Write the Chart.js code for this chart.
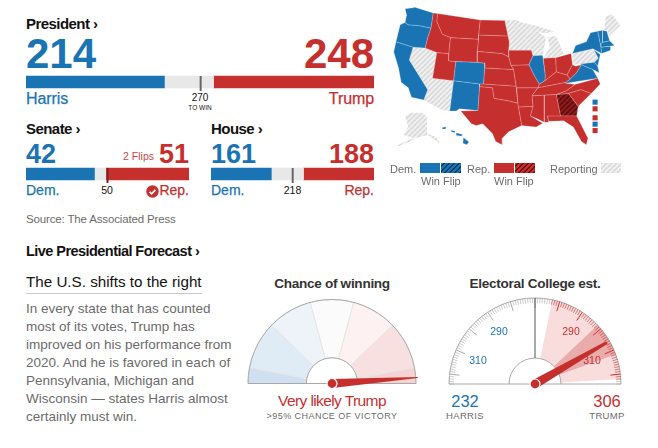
<!DOCTYPE html>
<html><head><meta charset="utf-8">
<script src="https://cdn.jsdelivr.net/npm/chart.js@4"></script>
<style>
html,body{margin:0;padding:0;background:#fff;width:658px;height:448px;overflow:hidden}
body{position:relative;font-family:"Liberation Sans",Arial,sans-serif;color:#121212}
.t{position:absolute;white-space:nowrap;line-height:1;transform:translateY(-50%)}
.c{transform:translate(-50%,-50%)}
.b{font-weight:700}
.h{font-weight:700;font-size:15px;letter-spacing:-.55px}
.blue{color:#1a74b4}.red{color:#c5302f}.gray{color:#6b6b6b}
.m{-webkit-text-stroke:.25px currentColor}
canvas{position:absolute;display:block}
.sw{position:absolute;height:10px;width:20px}
.p{font-size:13.5px;left:26px}
</style></head><body>

<div class="t h" style="left:26px;top:23px">President ›</div>
<div class="t b blue" style="left:26px;top:54px;font-size:42px">214</div>
<div class="t b red" style="right:284px;top:54px;font-size:42px">248</div>
<div class="t blue m" style="left:26px;top:99px;font-size:16px;letter-spacing:-.1px">Harris</div>
<div class="t red m" style="right:284px;top:99px;font-size:16px;letter-spacing:-.1px">Trump</div>
<div class="t c" style="left:200px;top:98px;font-size:10px">270</div>
<div class="t c" style="left:200px;top:108px;font-size:6.5px">TO WIN</div>

<div class="t h" style="left:26px;top:128px">Senate ›</div>
<div class="t h" style="left:211px;top:128px">House ›</div>
<div class="t b blue" style="left:26px;top:154px;font-size:27px">42</div>
<div class="t b blue" style="left:211px;top:154px;font-size:27px">161</div>
<div class="t b red" style="right:469px;top:154px;font-size:27px">51</div>
<div class="t b red" style="right:284px;top:154px;font-size:27px">188</div>
<div class="t red" style="right:504px;top:156px;font-size:10.5px;opacity:.9">2 Flips</div>
<div class="t blue m" style="left:26px;top:190px;font-size:14px">Dem.</div>
<div class="t blue m" style="left:211px;top:190px;font-size:14px">Dem.</div>
<div class="t red m" style="right:469px;top:190px;font-size:14px">Rep.</div>
<div class="t red m" style="right:284px;top:190px;font-size:14px">Rep.</div>
<div class="t c" style="left:107px;top:190px;font-size:10.5px">50</div>
<div class="t c" style="left:292.5px;top:190px;font-size:10.5px">218</div>
<svg style="position:absolute;left:146px;top:185px" width="13" height="13" viewBox="0 0 13 13"><circle cx="6.5" cy="6.5" r="6.2" fill="#c5302f"/><path d="M3.6 6.8l2 2 3.8-4" fill="none" stroke="#fff" stroke-width="1.7"/></svg>
<div class="t gray" style="left:26px;top:220px;font-size:11.5px;letter-spacing:-.15px">Source: The Associated Press</div>

<div class="t h" style="left:26px;top:251px;font-size:14.5px">Live Presidential Forecast ›</div>
<div class="t" style="left:26px;top:282px;font-size:15.2px">The U.S. shifts to the right</div>
<div style="position:absolute;left:26px;top:293px;width:176px;height:1px;background:#c9c9c9"></div>
<div class="t gray p" style="top:309px">In every state that has counted</div>
<div class="t gray p" style="top:327px">most of its votes, Trump has</div>
<div class="t gray p" style="top:345px">improved on his performance from</div>
<div class="t gray p" style="top:363px">2020. And he is favored in each of</div>
<div class="t gray p" style="top:381px">Pennsylvania, Michigan and</div>
<div class="t gray p" style="top:399px">Wisconsin — states Harris almost</div>
<div class="t gray p" style="top:417px">certainly must win.</div>

<div class="t c h" style="left:332px;top:284px;font-size:13.6px;color:#333;letter-spacing:-.3px">Chance of winning</div>
<div class="t c h" style="left:535px;top:284px;font-size:13.6px;color:#333;letter-spacing:-.3px">Electoral College est.</div>
<div class="t c red" style="left:332px;top:401px;font-size:15.5px;letter-spacing:-.6px">Very likely Trump</div>
<div class="t c gray" style="left:332px;top:416px;font-size:9px;letter-spacing:.45px">&gt;95% CHANCE OF VICTORY</div>
<div class="t c blue" style="left:465px;top:401px;font-size:16.5px">232</div>
<div class="t c red" style="left:607px;top:401px;font-size:16.5px">306</div>
<div class="t c gray" style="left:465px;top:416px;font-size:9.5px;letter-spacing:.35px">HARRIS</div>
<div class="t c gray" style="left:607px;top:416px;font-size:9.5px;letter-spacing:.35px">TRUMP</div>

<canvas id="bP" width="348" height="20" style="left:26px;top:72px"></canvas>
<canvas id="bS" width="163" height="20" style="left:26px;top:164px"></canvas>
<canvas id="bH" width="163" height="20" style="left:211px;top:164px"></canvas>
<canvas id="map" width="278" height="195" style="left:380px;top:0"></canvas>
<canvas id="g1" width="192" height="104" style="left:236px;top:290px"></canvas>
<canvas id="g2" width="192" height="104" style="left:439px;top:290px"></canvas>

<div class="t c" style="left:499px;top:331px;font-size:10.5px;color:#1a74b4">290</div>
<div class="t c" style="left:478px;top:360px;font-size:10.5px;color:#1a74b4">310</div>
<div class="t c" style="left:571px;top:331px;font-size:10.5px;color:#c5302f">290</div>
<div class="t c" style="left:592px;top:360px;font-size:10.5px;color:#c5302f">310</div>

<div class="t gray" style="left:390px;top:169px;font-size:11px">Dem.</div>
<div class="sw" style="left:420px;top:163px;background:#1a74b4"></div>
<div class="sw" style="left:441px;top:163px;background:repeating-linear-gradient(135deg,#1a74b4 0 2px,#0e3f66 2px 3.5px)"></div>
<div class="t gray" style="left:467px;top:169px;font-size:11px">Rep.</div>
<div class="sw" style="left:494px;top:163px;background:#c5302f"></div>
<div class="sw" style="left:515px;top:163px;background:repeating-linear-gradient(135deg,#c5302f 0 2px,#6d1113 2px 3.5px)"></div>
<div class="t gray" style="left:421px;top:181px;font-size:11px">Win Flip</div>
<div class="t gray" style="left:494px;top:181px;font-size:11px">Win Flip</div>
<div class="t gray" style="left:550px;top:169px;font-size:11px">Reporting</div>
<div class="sw" style="left:601px;top:163px;background:repeating-linear-gradient(135deg,#dedede 0 2px,#f3f3f3 2px 3.5px)"></div>

<script>
// ---- Results -------------------------------------------------------
const PRESIDENT = [214, 76, 248];
const SENATE    = [42, 7, 51];
const HOUSE     = [161, 86, 188];
const PRESIDENT_MARK = 270, SENATE_MARK = 50, HOUSE_MARK = 218;

// ---- Forecast gauges -----------------------------------------------
const WIN_ZONES = [11, 33, 31, 30, 31, 33, 11];
const WIN_NEEDLE = 97.8;
const EV_ZONES = [61, 21, 14, 10, 2];     // spans of electoral votes from 216 to 324
const EV_MIN = 216, EV_MID = 270, EV_MAX = 324, EV_NEEDLE = 306;

// ---- Map outlines (state shapes) -----------------------------------
const WA=[[65,15],[90,12],[95,10],[152,28],[145,75],[110,68],[75,65],[65,58],[70,35]];
const OR=[[50,65],[65,58],[75,65],[110,68],[145,75],[135,105],[127,138],[90,135],[37,118]];
const CA=[[37,118],[90,135],[78,175],[135,268],[123,300],[85,292],[75,262],[53,245],[45,200],[30,150]];
const NV=[[90,135],[127,138],[163,152],[150,232],[138,228],[135,268],[78,175]];
const UT=[[163,152],[200,155],[200,178],[222,180],[215,240],[150,232]];
const ID=[[152,28],[165,30],[163,55],[180,95],[205,105],[200,155],[163,152],[127,138],[135,105],[145,75]];
const MT=[[165,30],[297,50],[292,97],[292,110],[205,105],[180,95],[163,55]];
const WY=[[205,105],[292,110],[288,148],[288,183],[222,180],[200,178],[200,155]];
const CO=[[222,180],[288,183],[311,185],[311,200],[307,250],[295,250],[215,240]];
const NM=[[215,240],[295,250],[295,258],[290,333],[233,328],[223,335],[203,335]];
const AZ=[[150,232],[215,240],[203,335],[180,332],[123,300],[135,268],[138,228]];
const ND=[[297,50],[373,52],[383,100],[292,97]];
const SD=[[292,97],[383,100],[387,120],[385,145],[385,165],[365,155],[288,148],[292,110]];
const NE=[[288,148],[365,155],[385,165],[392,192],[400,205],[311,200],[311,185],[288,183]];
const KS=[[311,200],[400,205],[408,257],[307,250]];
const OK=[[295,250],[307,250],[408,257],[413,310],[380,302],[340,295],[335,262],[295,258]];
const TX=[[237,335],[290,333],[295,258],[335,262],[340,295],[380,302],[413,310],[415,322],[420,350],[425,380],[385,400],[365,420],[365,440],[345,430],[335,405],[305,375],[285,380],[270,375],[250,350]];
const MN=[[373,52],[410,50],[425,58],[470,68],[440,92],[437,115],[455,145],[385,145],[387,120],[383,100]];
const IA=[[385,145],[455,145],[460,162],[448,190],[392,192],[385,165]];
const MO=[[392,192],[448,190],[465,225],[480,250],[475,262],[410,262],[408,257],[400,205]];
const AR=[[410,262],[475,262],[457,287],[460,320],[415,322],[413,310]];
const LA=[[415,322],[460,320],[452,350],[490,373],[470,385],[425,380],[420,350]];
const WI=[[440,92],[475,85],[500,105],[490,160],[460,162],[455,145],[437,115]];
const IL=[[460,162],[490,160],[498,222],[497,240],[480,250],[465,225],[448,190]];
const MI=[[505,105],[530,100],[545,130],[555,155],[530,168],[492,170],[512,135]];
const UP=[[470,68],[525,85],[495,92],[475,85],[440,92]];
const IN=[[492,170],[530,168],[532,212],[497,240],[498,222]];
const OH=[[530,168],[578,155],[582,190],[565,222],[532,212]];
const KY=[[480,250],[497,240],[532,212],[565,222],[575,235],[562,245],[475,262]];
const TN=[[475,262],[562,245],[562,248],[590,252],[562,272],[532,283],[495,285],[457,287]];
const MS=[[457,287],[495,285],[495,370],[475,360],[452,350],[460,320]];
const AL=[[495,285],[532,283],[545,350],[505,350],[508,370],[495,370]];
const GA=[[532,283],[570,280],[600,320],[595,350],[545,350]];
const FL=[[505,350],[545,350],[595,350],[630,420],[625,440],[610,430],[585,385],[555,365],[508,367]];
const SC=[[570,280],[608,268],[640,280],[600,320]];
const NC=[[562,272],[590,252],[660,232],[668,250],[640,280],[608,268],[570,280],[532,283]];
const VA=[[562,248],[562,245],[575,235],[595,215],[610,190],[625,197],[645,205],[660,232]];
const WV=[[565,222],[582,190],[592,195],[610,190],[595,215],[575,235]];
const PA=[[582,155],[645,140],[662,170],[650,182],[582,190]];
const NY=[[592,130],[625,118],[638,90],[660,85],[668,125],[670,135],[672,155],[645,140],[582,155]];
const NJ=[[648,143],[668,158],[660,195],[650,182],[662,170]];
const MD=[[605,188],[650,182],[660,195],[665,215],[645,205],[625,197]];
const VT=[[660,85],[675,82],[675,120],[668,125]];
const NH=[[675,82],[688,85],[697,115],[675,120]];
const MA=[[668,125],[675,120],[697,115],[712,130],[670,135]];
const CT=[[670,135],[700,132],[700,145],[672,155]];
const ME=[[685,40],[705,32],[730,68],[695,100],[680,80]];
const AK=[[65,350],[85,340],[120,340],[133,355],[133,405],[160,415],[175,438],[135,410],[95,420],[60,410],[75,385]];
const AK2=[[40,442],[90,420],[95,424],[45,445]];
const HI1=[[180,386],[192,384],[190,391],[180,391]];
const HI2=[[208,394],[220,398],[218,403],[208,400]];
const HI3=[[223,403],[243,408],[241,414],[225,411]];
const HI4=[[245,418],[263,432],[255,440],[244,436]];
const DEM_STATES=[WA,OR,CA,CO,NM,IL,VA,NY,NJ,MD,VT,NH,MA,CT,HI1,HI2,HI3,HI4];
const REP_STATES=[ID,MT,WY,UT,ND,SD,NE,KS,OK,TX,IA,MO,AR,LA,IN,OH,KY,TN,MS,AL,FL,SC,NC,WV];
const REP_FLIPS=[GA];
const REPORTING=[NV,AZ,MN,WI,MI,UP,PA,ME,AK,AK2];
const SMALL_STATES=[[652,307],[652,328],[652,356],[652,376],[652,396]];
const SMALL_COLORS=['dem','rep','rep','dem','rep'];

const BLUE='#1a74b4', RED='#c5302f', GRAY_BAR='#e8e8e8';
Chart.defaults.animation=false;
Chart.defaults.responsive=false;

function marker(value,color){return {id:'mark',afterDatasetsDraw(ch){
  const x=ch.scales.x.getPixelForValue(value),c=ch.ctx;
  c.save();c.strokeStyle=color;c.lineWidth=2;c.beginPath();c.moveTo(x,4);c.lineTo(x,19);c.stroke();c.restore();}}}
function bar(id,vals,mark,markColor){
  new Chart(document.getElementById(id),{type:'bar',
    data:{labels:['seats'],datasets:[BLUE,GRAY_BAR,RED].map((col,i)=>({data:[vals[i]],backgroundColor:col,barThickness:12,stack:'a',borderWidth:0}))},
    options:{indexAxis:'y',plugins:{legend:{display:false},tooltip:{enabled:false}},
      scales:{x:{display:false,stacked:true,min:0,max:vals[0]+vals[1]+vals[2]},y:{display:false,stacked:true}},
      layout:{padding:0}},plugins:[marker(mark,markColor)]});
}
bar('bP',PRESIDENT,PRESIDENT_MARK,'#666');
bar('bS',SENATE,SENATE_MARK,'#7d2020');
bar('bH',HOUSE,HOUSE_MARK,'#666');

// ---- map
function hatch(bg,fg,n,w){
  const p=document.createElement('canvas');p.width=p.height=n;const x=p.getContext('2d');
  x.fillStyle=bg;x.fillRect(0,0,n,n);x.strokeStyle=fg;x.lineWidth=w;
  x.beginPath();x.moveTo(-1,1);x.lineTo(1,-1);x.moveTo(0,n);x.lineTo(n,0);x.moveTo(n-1,n+1);x.lineTo(n+1,n-1);x.stroke();
  return x.createPattern(p,'repeat');
}
const groups=[[DEM_STATES,BLUE,'rgba(255,255,255,.38)'],[REP_STATES,RED,'rgba(255,225,225,.38)'],
  [REP_FLIPS,hatch('#941c1e','#5f0d0f',5,1.6),'rgba(255,225,225,.38)'],[REPORTING,hatch('#f2f2f2','#dadada',5,1.8),'rgba(255,255,255,0)']];
const mapSets=[];
groups.forEach(([list,col,edge])=>list.forEach(poly=>mapSets.push({
  data:poly.concat([poly[0]]).map(([x,y])=>({x,y})),showLine:true,fill:'shape',
  backgroundColor:col,borderColor:edge,borderWidth:.6,pointRadius:0,tension:0})));
mapSets.push({data:SMALL_STATES.map(([x,y])=>({x,y})),pointStyle:'rect',pointRadius:3.6,borderWidth:0,
  backgroundColor:SMALL_COLORS.map(k=>k==='dem'?BLUE:RED)});
new Chart(document.getElementById('map'),{type:'scatter',data:{datasets:mapSets},
  options:{plugins:{legend:{display:false},tooltip:{enabled:false}},layout:{padding:0},
    scales:{x:{display:false,min:0,max:834},y:{display:false,min:0,max:585,reverse:true}}}});

// ---- gauges
function needle(c,cx,cy,a,len,w,tip){
  const dx=Math.cos(a),dy=Math.sin(a);
  c.fillStyle=RED;c.strokeStyle='#fff';c.lineWidth=1;c.beginPath();
  c.moveTo(cx-dy*w/2,cy+dx*w/2);c.lineTo(cx+dx*len-dy*tip/2,cy+dy*len+dx*tip/2);
  c.lineTo(cx+dx*len+dy*tip/2,cy+dy*len-dx*tip/2);c.lineTo(cx+dy*w/2,cy-dx*w/2);c.closePath();c.fill();
  c.fillStyle=RED;c.strokeStyle='#fff';c.lineWidth=1.2;c.beginPath();c.arc(cx,cy,5,0,7);c.fill();c.stroke();
}
function frame(c,cx,cy,R,r){
  c.strokeStyle='#a8a8a8';c.lineWidth=1;
  c.beginPath();c.arc(cx,cy,R,Math.PI,2*Math.PI);c.stroke();
  c.beginPath();c.arc(cx,cy,r,Math.PI,2*Math.PI);c.stroke();
  c.beginPath();c.moveTo(cx-R,cy);c.lineTo(cx+R,cy);c.stroke();
}
new Chart(document.getElementById('g1'),{type:'doughnut',
  data:{labels:WIN_ZONES.map((_,i)=>'z'+i),datasets:[{data:WIN_ZONES,borderWidth:1,borderColor:'#e6e6e6',
    backgroundColor:['#cfe1f0','#dfebf5','#eef3f9','#fbfbfb','#fdf1f1','#f8e0e1','#f5d2d3']}]},
  options:{rotation:-90,circumference:180,cutout:'30.6%',layout:{padding:{left:11,right:11,top:9,bottom:10}},
    plugins:{legend:{display:false},tooltip:{enabled:false}}},
  plugins:[{id:'needle',afterDatasetsDraw(ch){
    const a=ch.getDatasetMeta(0).data[0],c=ch.ctx;c.save();
    frame(c,a.x,a.y,a.outerRadius,a.innerRadius);
    needle(c,a.x,a.y,Math.PI+Math.PI*WIN_NEEDLE/100,a.outerRadius+2,9,1);c.restore();}}]});

const evAngle=v=>Math.PI+Math.PI*(v-EV_MIN)/(EV_MAX-EV_MIN);
new Chart(document.getElementById('g2'),{type:'doughnut',
  data:{labels:EV_ZONES.map((_,i)=>'z'+i),datasets:[{data:EV_ZONES,borderWidth:0,
    backgroundColor:['rgba(0,0,0,0)','#f9dcdc','#eaabab','#f9dcdc','rgba(0,0,0,0)']}]},
  options:{rotation:-90,circumference:180,cutout:'30.2%',layout:{padding:{left:10,right:10,top:8,bottom:10}},
    plugins:{legend:{display:false},tooltip:{enabled:false}}},
  plugins:[{id:'dial',afterDatasetsDraw(ch){
    const a=ch.getDatasetMeta(0).data[0],c=ch.ctx,R=a.outerRadius;c.save();
    frame(c,a.x,a.y,R,a.innerRadius);
    for(let v=EV_MIN;v<=EV_MAX;v++){
      const t=evAngle(v),major=v%10===0,hot=v>=277&&v<=322;
      c.strokeStyle=hot?'#c5302f':'#a9a9a9';c.lineWidth=major?1:.6;
      c.beginPath();c.moveTo(a.x+Math.cos(t)*(R-(major?10:5)),a.y+Math.sin(t)*(R-(major?10:5)));
      c.lineTo(a.x+Math.cos(t)*R,a.y+Math.sin(t)*R);c.stroke();
    }
    c.strokeStyle='#555';c.lineWidth=1;c.beginPath();
    c.moveTo(a.x,a.y-a.innerRadius);c.lineTo(a.x,a.y-R);c.stroke();
    needle(c,a.x,a.y,evAngle(EV_NEEDLE),R-3,9,3);c.restore();}}]});
</script>
</body></html>
